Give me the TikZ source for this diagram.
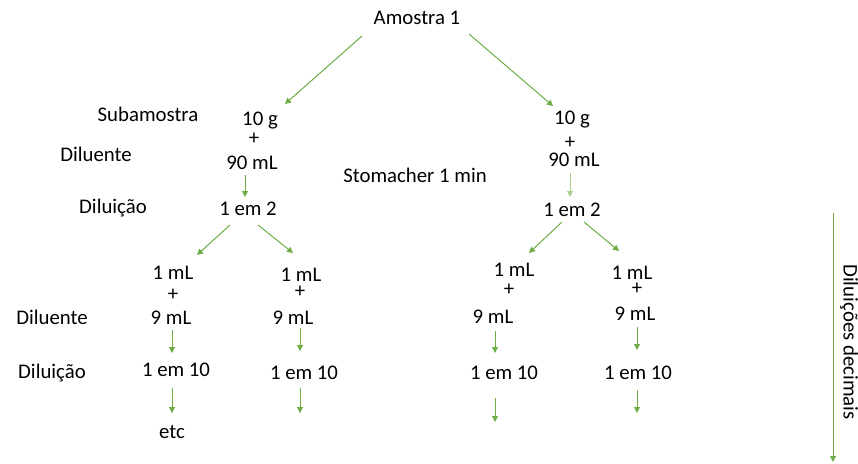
\documentclass[tikz,border=0pt]{standalone}
\usepackage{fontspec}
\setmainfont{Carlito}
\usetikzlibrary{arrows.meta,calc}
\definecolor{grn}{HTML}{70AD47}
\definecolor{lgrn}{HTML}{A9D18E}
\begin{document}
\begin{tikzpicture}[x=1pt,y=1pt,
  lbl/.style={inner sep=0pt,anchor=center,text height=13pt,text depth=0pt,font=\fontsize{20.8}{25}\selectfont},
  arr/.style={draw=grn,line width=1pt,-{Triangle[length=6pt,width=6pt]},fill=grn},
  larr/.style={draw=lgrn,line width=1pt,-{Triangle[length=6pt,width=6pt]},fill=lgrn}]
\useasboundingbox (0,0) rectangle (858,-463);
% top
\node[lbl] (am) at (417,-18) {Amostra 1};
% row labels
\node[lbl] (lsub) at (148,-115) {Subamostra};
\node[lbl] (ldil1) at (96,-155) {Diluente};
\node[lbl] (ldiln1) at (113,-207) {Diluição};
\node[lbl] (stom) at (415,-176) {Stomacher 1 min};
\node[lbl] (ldil2) at (52,-318) {Diluente};
\node[lbl] (ldiln2) at (52,-372) {Diluição};
% left sub-sample
\node[lbl] (g1) at (260,-119) {10 g};
\node[lbl] (p1) at (254,-138) {+};
\node[lbl] (m1) at (252,-163) {90 mL};
\node[lbl] (e1) at (248,-209) {1 em 2};
% right sub-sample
\node[lbl] (g2) at (572,-118) {10 g};
\node[lbl] (p2) at (570,-142) {+};
\node[lbl] (m2) at (574,-160) {90 mL};
\node[lbl] (e2) at (572,-210) {1 em 2};
% column 1
\node[lbl] (a1) at (173,-273) {1 mL};
\node[lbl] (ap1) at (173,-294) {+};
\node[lbl] (an1) at (171,-318) {9 mL};
\node[lbl] (ad1) at (176,-370) {1 em 10};
\node[lbl] (etc) at (172,-432) {etc};
% column 2
\node[lbl] (a2) at (301,-275) {1 mL};
\node[lbl] (ap2) at (300,-291) {+};
\node[lbl] (an2) at (293,-318) {9 mL};
\node[lbl] (ad2) at (304,-373) {1 em 10};
% column 3
\node[lbl] (a3) at (514,-270) {1 mL};
\node[lbl] (ap3) at (509,-289) {+};
\node[lbl] (an3) at (493,-317) {9 mL};
\node[lbl] (ad3) at (504,-373) {1 em 10};
% column 4
\node[lbl] (a4) at (632,-273) {1 mL};
\node[lbl] (ap4) at (637,-288) {+};
\node[lbl] (an4) at (635,-314) {9 mL};
\node[lbl] (ad4) at (638,-373) {1 em 10};
% side label
\node[lbl,rotate=-90] (dec) at (850,-342) {Diluições decimais};
\coordinate (end2) at (300,-413);
\coordinate (end3) at (495,-422);
\coordinate (end4) at (637,-413);
\coordinate (vtop) at (833,-213);
\coordinate (vbot) at (833,-462);
% arrows
\draw[arr] ($(am)+(-55,-18)$) -- ($(g1)+(25,15)$);
\draw[arr] ($(am)+(52,-16)$) -- ($(g2)+(-19,12)$);
\draw[arr] ($(m1)+(-7,-12)$) -- ($(e1)+(-3,12)$);
\draw[larr] ($(m2)+(-4,-13)$) -- ($(e2)+(-2,13)$);
\draw[arr] ($(e1)+(-18,-16)$) -- ($(a1)+(24,18)$);
\draw[arr] ($(e1)+(10,-16)$) -- ($(a2)+(-8,22)$);
\draw[arr] ($(e2)+(-10,-12)$) -- ($(a3)+(15,17)$);
\draw[arr] ($(e2)+(12,-12)$) -- ($(a4)+(-13,22)$);
\draw[arr] ($(an1)+(1,-12)$) -- ($(ad1)+(-4,17)$);
\draw[arr] ($(ad1)+(-4,-18)$) -- ($(etc)+(0,19)$);
\draw[arr] ($(an2)+(7,-10)$) -- ($(ad2)+(-4,22)$);
\draw[arr] ($(ad2)+(-4,-15)$) -- (end2);
\draw[arr] ($(an3)+(2,-14)$) -- ($(ad3)+(-9,20)$);
\draw[arr] ($(ad3)+(-9,-25)$) -- (end3);
\draw[arr] ($(an4)+(2,-13)$) -- ($(ad4)+(-1,23)$);
\draw[arr] ($(ad4)+(-1,-17)$) -- (end4);
\draw[arr] (vtop) -- (vbot);
\end{tikzpicture}
\end{document}
